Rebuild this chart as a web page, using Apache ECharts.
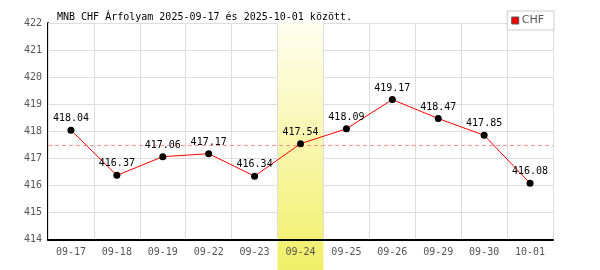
<!DOCTYPE html>
<html><head><meta charset="utf-8">
<script src="https://cdn.jsdelivr.net/npm/echarts@6/dist/echarts.min.js"></script>
<style>html,body{margin:0;padding:0;background:#fff}#c{width:600px;height:270px}</style>
</head><body><div id="c"></div>
<script>
const categories = ['09-17','09-18','09-19','09-22','09-23','09-24','09-25','09-26','09-29','09-30','10-01'];
const chfValues = [418.04,416.37,417.06,417.17,416.34,417.54,418.09,419.17,418.47,417.85,416.08];
const highlightCategory = '09-24';
const yTicks = {min:414, max:422, interval:1};
const titleText = 'MNB CHF Árfolyam 2025-09-17 és 2025-10-01 között.';
const seriesName = 'CHF';

const mono = '"DejaVu Sans Mono", monospace';
const avg = chfValues.reduce((a,b)=>a+b,0)/chfValues.length;
const chart = echarts.init(document.getElementById('c'), null, {renderer:'canvas'});
chart.setOption({
  animation:false,
  backgroundColor:'#fff',
  title:{text:titleText,left:52,top:7,textStyle:{fontFamily:mono,fontSize:10,fontWeight:'normal',color:'#000'}},
  legend:{data:[{name:seriesName,icon:'rect',itemStyle:{color:'#ff0000',borderColor:'#555',borderWidth:1}}],right:46,top:11,itemWidth:7,itemHeight:7,itemGap:4,
    backgroundColor:'#fff',borderColor:'#ccc',borderWidth:1,padding:[4,10,4,4],z:10,
    textStyle:{fontFamily:'"DejaVu Sans", sans-serif',fontSize:11,color:'#555',padding:[0,0,0,-2]}},
  grid:[
    {left:48,right:47,top:23,bottom:30.5},
    {left:48,right:47,top:23,bottom:0},
    {left:48,right:47,top:23,bottom:30.5}
  ],
  xAxis:[
    {type:'category',data:categories,gridIndex:0,boundaryGap:true,z:3,
     axisLine:{lineStyle:{color:'#000',width:2}},axisTick:{show:false},
     axisLabel:{fontFamily:mono,fontSize:10,color:'#555',margin:8},
     splitLine:{show:true,interval:0,lineStyle:{color:'#ddd',width:1}}},
    {type:'category',data:categories,gridIndex:1,show:false,boundaryGap:true},
    {type:'value',gridIndex:2,min:0,max:1,show:false}
  ],
  yAxis:[
    {type:'value',gridIndex:0,min:yTicks.min,max:yTicks.max,interval:yTicks.interval,
     axisLine:{show:true,lineStyle:{color:'#000',width:2}},axisTick:{show:false},
     axisLabel:{fontFamily:mono,fontSize:10,color:'#555',margin:6},
     splitLine:{lineStyle:{color:'#ddd',width:1}}},
    {type:'value',gridIndex:1,min:0,max:1,show:false},
    {type:'value',gridIndex:2,min:yTicks.min,max:yTicks.max,show:false}
  ],
  series:[
    {type:'bar',xAxisIndex:1,yAxisIndex:1,barWidth:'100%',silent:true,z:1,
     data:categories.map(c=>c===highlightCategory?1:null),
     itemStyle:{color:new echarts.graphic.LinearGradient(0,0,0,1,[{offset:0,color:'#fffef0'},{offset:1,color:'#f1ef66'}])}},
    {name:'avg',type:'line',xAxisIndex:2,yAxisIndex:2,silent:true,z:4,symbol:'none',
     data:[[0,avg],[1,avg]],
     lineStyle:{color:'#ff9090',type:[4,3],width:1,opacity:1}},
    {name:seriesName,type:'line',data:chfValues,z:5,
     color:'#ff0000',
     lineStyle:{color:'#ff0000',width:1},
     itemStyle:{color:'#000'},
     symbol:'circle',symbolSize:7,
     label:{show:true,position:'top',distance:3,fontFamily:mono,fontSize:10,color:'#000',formatter:p=>p.value.toFixed(2)}}
  ]
});
</script></body></html>
